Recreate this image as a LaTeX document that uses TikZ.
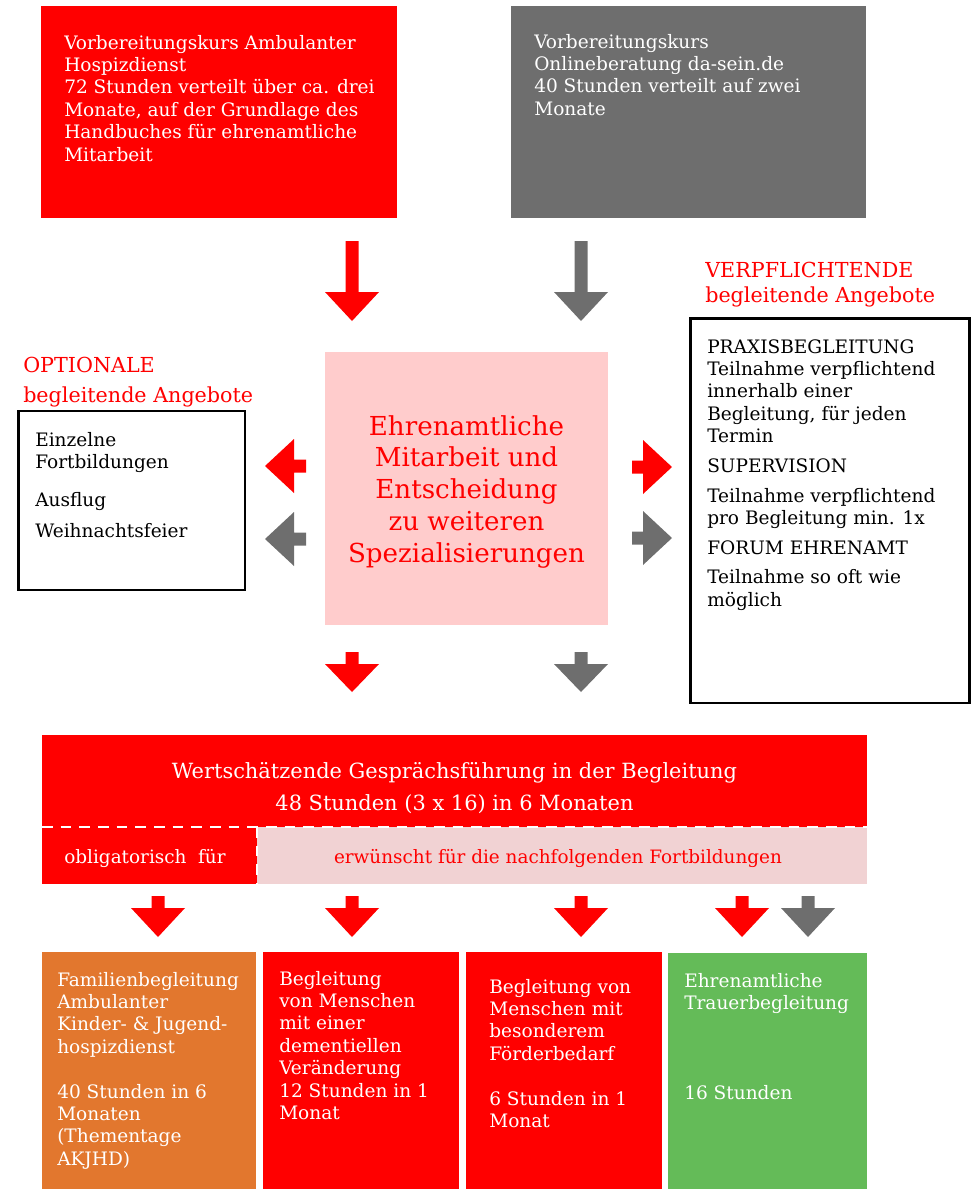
\documentclass[tikz,border=0pt]{standalone}
\usepackage{fontspec}
\setmainfont{DejaVu Serif}
\definecolor{hred}{HTML}{FF0000}
\definecolor{hgray}{HTML}{6E6E6E}
\definecolor{hpink}{HTML}{FFCCCC}
\definecolor{lpink}{HTML}{F1D2D3}
\definecolor{horange}{HTML}{E2772E}
\definecolor{hgreen}{HTML}{64BB58}
\newcommand{\bodyfont}{\fontsize{13.9}{16.8}\selectfont}
% first line is the baseline
\newcommand{\ltab}[1]{\begin{tabular}[t]{@{}l@{}}#1\end{tabular}}
\newcommand{\ctab}[1]{\begin{tabular}[t]{@{}c@{}}#1\end{tabular}}

\tikzset{
  txt/.style={anchor=base west, inner sep=0pt, font=\bodyfont},
  headtxt/.style={anchor=base west, inner sep=0pt, text=hred},
  pics/blockarrow/.style 2 args={code={
    \fill (-6.5,0) -- (6.5,0) -- (6.5,#1) -- (27,#1) -- (0,#1+#2) -- (-27,#1) -- (-6.5,#1) -- cycle;
  }}
}

\begin{document}
\begin{tikzpicture}[x=0.75pt,y=-0.75pt]
  \useasboundingbox (0,0) rectangle (973,1189);

  %courses on top
  \fill[hred] (41,6) rectangle (397,218);
  \node[txt, text=white] (kursamb) at (64,49) {\ltab{Vorbereitungskurs Ambulanter\\Hospizdienst\\72 Stunden verteilt über ca. drei\\Monate, auf der Grundlage des\\Handbuches für ehrenamtliche\\Mitarbeit}};
  \fill[hgray] (511,6) rectangle (866,218);
  \node[txt, text=white] (kursonl) at (534,48) {\ltab{Vorbereitungskurs\\Onlineberatung da-sein.de\\40 Stunden verteilt auf zwei\\Monate}};

  \pic[hred] at (352,241) {blockarrow={51}{29}};
  \pic[hgray] at (581,241) {blockarrow={51}{29}};

  %middle row
  \fill[hpink] (325,352) rectangle (608,625);
  \node[anchor=base, inner sep=0pt, text=hred, font=\fontsize{19.6}{23.9}\selectfont] (mitarbeit) at (466.5,435) {\ctab{Ehrenamtliche\\Mitarbeit und\\Entscheidung\\zu weiteren\\Spezialisierungen}};

  \node[headtxt, font=\fontsize{15.5}{22.5}\selectfont] (optlabel) at (23,372) {\ltab{OPTIONALE\\begleitende Angebote}};
  \draw[line width=2pt] (18.5,411) rectangle (245,590);
  \node[txt] (optional) at (35,446) {\ltab{Einzelne\\Fortbildungen\\[12pt]Ausflug\\[6pt]Weihnachtsfeier}};

  \node[headtxt, font=\fontsize{15.5}{18.75}\selectfont] (verlabel) at (705,277) {\ltab{VERPFLICHTENDE\\begleitende Angebote}};
  \draw[line width=2pt] (690.5,318.5) rectangle (969.5,703);
  \node[txt] (verpfl) at (707,353) {\ltab{PRAXISBEGLEITUNG\\Teilnahme verpflichtend\\innerhalb einer\\Begleitung, für jeden\\Termin\\[5.5pt]SUPERVISION\\[5.5pt]Teilnahme verpflichtend\\pro Begleitung min. 1x\\[5.5pt]FORUM EHRENAMT\\[5.5pt]Teilnahme so oft wie\\möglich}};

  \pic[hred, rotate=-90] at (306,466) {blockarrow={12}{29}};
  \pic[hgray, rotate=-90] at (306,539) {blockarrow={12}{29}};
  \pic[hred, rotate=90] at (632,467) {blockarrow={11}{29}};
  \pic[hgray, rotate=90] at (632,538) {blockarrow={11}{29}};

  \pic[hred] at (352,652) {blockarrow={12}{28}};
  \pic[hgray] at (581,652) {blockarrow={12}{28}};

  %communication course
  \fill[hred] (42,735) rectangle (867,884);
  \fill[lpink] (257,827) rectangle (867,884);
  \draw[white, line width=2.2pt, dash pattern=on 8pt off 6pt] (42,827) -- (867,827);
  \draw[white, line width=2pt, dash pattern=on 8pt off 6pt] (257,827) -- (257,884);
  \node[anchor=base, inner sep=0pt, text=white, font=\fontsize{15.7}{24}\selectfont] (gespraech) at (454.5,778) {\ctab{Wertschätzende Gesprächsführung in der Begleitung\\48 Stunden (3 x 16) in 6 Monaten}};
  \node[anchor=base, inner sep=0pt, text=white, font=\fontsize{13.8}{16.8}\selectfont] (oblig) at (145,863) {obligatorisch\ \ für};
  \node[anchor=base, inner sep=0pt, text=hred, font=\fontsize{13.8}{16.8}\selectfont] (erwuenscht) at (558,863) {erwünscht für die nachfolgenden Fortbildungen};

  \foreach \x in {158,352,581,742}
    \pic[hred] at (\x,896) {blockarrow={12}{29}};
  \pic[hgray] at (808,896) {blockarrow={12}{29}};

  %further courses
  \fill[horange] (42,952) rectangle (256,1189);
  \node[txt, text=white] (familie) at (57,986) {\ltab{Familienbegleitung\\Ambulanter\\Kinder- \& Jugend-\\hospizdienst\\[16.8pt]40 Stunden in 6\\Monaten\\(Thementage\\AKJHD)}};
  \fill[hred] (263,952) rectangle (459,1189);
  \node[txt, text=white] (demenz) at (279,985) {\ltab{Begleitung\\von Menschen\\mit einer\\dementiellen\\Veränderung\\12 Stunden in 1\\Monat}};
  \fill[hred] (466,952) rectangle (662,1189);
  \node[txt, text=white] (foerder) at (489,993) {\ltab{Begleitung von\\Menschen mit\\besonderem\\Förderbedarf\\[16.8pt]6 Stunden in 1\\Monat}};
  \fill[hgreen] (668,953) rectangle (867,1189);
  \node[txt, text=white] (trauer) at (684,987) {\ltab{Ehrenamtliche\\Trauerbegleitung\\[50.4pt]16 Stunden}};
\end{tikzpicture}
\end{document}
